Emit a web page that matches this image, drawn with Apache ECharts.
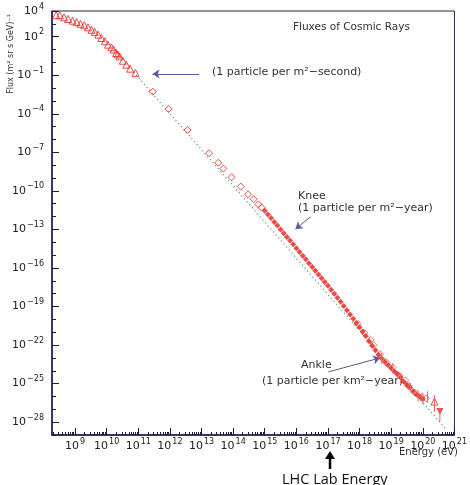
<!DOCTYPE html>
<html><head><meta charset="utf-8">
<script src="https://cdn.jsdelivr.net/npm/echarts@6/dist/echarts.min.js"></script>
<style>html,body{margin:0;padding:0;background:#fff}#c{width:470px;height:485px}</style>
</head><body><div id="c"></div>
<script>
// Values are log10(energy / eV) and log10(flux)
const triE = [8.40,8.52,8.65,8.78,8.92,9.05,9.17,9.29,9.41,9.52,9.62,9.73,9.83,9.94,10.04,10.15,10.22,10.30,10.35,10.41,10.51,10.62,10.74,10.91];
const triF = [3.67,3.67,3.51,3.38,3.25,3.14,3.01,2.89,2.73,2.54,2.37,2.16,1.90,1.64,1.38,1.18,1.00,0.73,0.62,0.47,0.13,-0.18,-0.49,-0.82];
const diaE = [11.46,11.96,12.56,13.24,13.53,13.69,13.95,14.24,14.47,14.65,14.80,14.90];
const diaF = [-2.28,-3.63,-5.26,-7.07,-7.81,-8.27,-8.94,-9.67,-10.26,-10.65,-11.05,-11.30];
const fillE = [15.0,15.1,15.2,15.3,15.4,15.5,15.6,15.7,15.8,15.9,16.0,16.1,16.2,16.3,16.4,16.5,16.6,16.7,16.8,16.9,17.0,17.1,17.2,17.3,17.4,17.5,17.6,17.7,17.8,17.9,18.0,18.1,18.2,18.3,18.4,18.5,18.6,18.7,18.8,18.9,19.0,19.1,19.2,19.3,19.4,19.5,19.6,19.7,19.8,19.9,20.0];
const fillF = [-11.55,-11.84,-12.12,-12.42,-12.70,-13.00,-13.29,-13.58,-13.87,-14.16,-14.46,-14.75,-15.04,-15.33,-15.63,-15.92,-16.21,-16.50,-16.80,-17.09,-17.38,-17.69,-18.00,-18.32,-18.63,-18.96,-19.29,-19.62,-19.95,-20.28,-20.62,-20.95,-21.30,-21.70,-22.05,-22.40,-22.75,-23.05,-23.30,-23.55,-23.80,-24.05,-24.25,-24.50,-24.85,-25.10,-25.30,-25.60,-25.85,-26.00,-26.20];
const openE = [17.95,18.15,18.35,18.45,18.65,18.85,19.05,19.25,19.45,19.55,19.75,19.95,20.10];
const openF = [-20.35,-21.05,-21.60,-22.00,-22.70,-23.35,-23.75,-24.35,-24.75,-25.20,-25.70,-26.05,-26.15];
const errE  = [18.70,19.05,19.30,19.60,19.85,20.00,20.15];
const errLo = [-23.5,-24.2,-25.0,-25.7,-26.4,-26.6,-26.5];
const errHi = [-22.6,-23.4,-24.2,-24.9,-25.5,-25.7,-25.6];
const hiE = [20.37], hiF = [-26.4], hiLo = [-27.2], hiHi = [-25.9];
const lastE = [20.54], lastF = [-27.18], lastLo = [-27.96], lastHi = [-26.9];
const lineE = [10.85, 20.75];
const lineF = [-0.75, -28.6];
const xLabels = [9,10,11,12,13,14,15,16,17,18,19,20,21];
const yLabels = [4,2,-1,-4,-7,-10,-13,-16,-19,-22,-25,-28];

const xMin = 8.27, xMax = 21, yMin = -29, yMax = 4;
const red = '#e6201a';
const xMinor = [];
for (let d = 8; d < 21; d++) for (let k = 2; k <= 9; k++) { const v = d + Math.log10(k); if (v > xMin && v < xMax) xMinor.push(v); }
const yMinor = [];
for (let d = -29; d <= 4; d++) yMinor.push(d);

const fmt = v => '{b|10}{s|' + (v < 0 ? '\u2212' + (-v) : v) + '}';
const rich = { b: { fontSize: 11, color: '#222', fontFamily: 'DejaVu Sans' }, s: { fontSize: 8, color: '#222', fontFamily: 'DejaVu Sans', padding: [0, 0, 9, 1] } };
const pair = (a, b) => a.map((v, i) => [v, b[i]]);
const errData = (e, lo, hi) => e.map((v, i) => [v, lo[i], hi[i]]);
const errSeries = (data) => ({
  type: 'custom', xAxisIndex: 0, yAxisIndex: 0, data, silent: true, z: 3,
  renderItem: (p, api) => {
    const a = api.coord([api.value(0), api.value(1)]), b = api.coord([api.value(0), api.value(2)]);
    return { type: 'line', shape: { x1: a[0], y1: a[1], x2: b[0], y2: b[1] }, style: { stroke: '#e86a60', lineWidth: 1 } };
  }
});
const tf = 'DejaVu Sans';
const chart = echarts.init(document.getElementById('c'));
chart.setOption({
  animation: false,
  grid: { left: 52, top: 11, right: 13, bottom: 50, show: true, borderColor: '#23234d', borderWidth: 1 },
  xAxis: [
    { type: 'value', min: xMin, max: xMax, splitLine: { show: false },
      axisLine: { onZero: false, lineStyle: { color: '#1b1b44', width: 1.5 } },
      axisTick: { inside: true, length: 7, customValues: xLabels, lineStyle: { color: '#1b1b44' } },
      axisLabel: { customValues: xLabels, formatter: fmt, rich, margin: 3 } },
    { type: 'value', min: xMin, max: xMax, position: 'bottom', splitLine: { show: false },
      axisLine: { show: false, onZero: false }, axisLabel: { show: false },
      axisTick: { inside: true, length: 3, customValues: xMinor, lineStyle: { color: '#1b1b44' } } }
  ],
  yAxis: [
    { type: 'value', min: yMin, max: yMax, splitLine: { show: false },
      axisLine: { show: true, onZero: false, lineStyle: { color: '#1b1b44', width: 1.5 } },
      axisTick: { show: true, inside: true, length: 7, customValues: yLabels, lineStyle: { color: '#1b1b44' } },
      axisLabel: { customValues: yLabels, formatter: fmt, rich, margin: 8 } },
    { type: 'value', min: yMin, max: yMax, position: 'left', splitLine: { show: false },
      axisLine: { show: false, onZero: false }, axisLabel: { show: false },
      axisTick: { show: true, inside: true, length: 4, customValues: yMinor, lineStyle: { color: '#1b1b44' } } }
  ],
  series: [
    { type: 'line', data: pair(lineE, lineF), symbol: 'none', z: 1,
      lineStyle: { color: '#3d9a5c', width: 1.3, type: [1, 3] } },
    errSeries(errData(errE, errLo, errHi)),
    errSeries(errData(hiE, hiLo, hiHi)),
    errSeries(errData(lastE, lastLo, lastHi)),
    { type: 'scatter', data: pair(triE, triF), symbol: 'triangle', symbolSize: 7,
      itemStyle: { color: 'rgba(0,0,0,0)', borderColor: red, borderWidth: 1 } },
    { type: 'scatter', data: pair(diaE, diaF), symbol: 'diamond', symbolSize: 7,
      itemStyle: { color: 'rgba(0,0,0,0)', borderColor: red, borderWidth: 1 } },
    { type: 'scatter', data: pair(openE, openF), symbol: 'diamond', symbolSize: 7,
      itemStyle: { color: 'rgba(0,0,0,0)', borderColor: '#ea5a50', borderWidth: 1 } },
    { type: 'scatter', data: pair(fillE, fillF), symbol: 'diamond', symbolSize: 6,
      itemStyle: { color: red } },
    { type: 'scatter', data: pair(hiE, hiF), symbol: 'triangle', symbolSize: 7,
      itemStyle: { color: 'rgba(0,0,0,0)', borderColor: red, borderWidth: 1 } },
    { type: 'scatter', data: pair(lastE, lastF), symbol: 'triangle', symbolRotate: 180, symbolSize: 7,
      itemStyle: { color: red },
      markLine: { silent: true, symbolSize: 7, label: { show: false },
        lineStyle: { color: '#5a5a9c', width: 1, type: 'solid' },
        data: [
          [{ coord: [12.92, -0.90], symbol: 'none' }, { coord: [11.45, -0.90], symbol: 'arrow' }],
          [{ coord: [16.45, -12.03], symbol: 'none' }, { coord: [15.97, -12.96], symbol: 'arrow' }],
          [{ coord: [17.01, -24.09], symbol: 'none' }, { coord: [18.65, -23.0], symbol: 'arrow' }]
        ] } }
  ],
  graphic: [
    { type: 'text', left: 293, top: 22, style: { text: 'Fluxes of Cosmic Rays', font: '10.5px ' + tf, fill: '#333' } },
    { type: 'text', x: 11, y: 54, rotation: Math.PI / 2, style: { text: 'Flux (m\u00b2 sr s GeV)\u207b\u00b9', font: '8px ' + tf, fill: '#333', align: 'center', verticalAlign: 'middle' } },
    { type: 'text', left: 212, top: 67, style: { text: '(1 particle per m\u00b2\u2212second)', font: '11px ' + tf, fill: '#333' } },
    { type: 'text', left: 298, top: 191, style: { text: 'Knee', font: '11px ' + tf, fill: '#333' } },
    { type: 'text', left: 298, top: 203, style: { text: '(1 particle per m\u00b2\u2212year)', font: '11px ' + tf, fill: '#333' } },
    { type: 'text', left: 301, top: 360, style: { text: 'Ankle', font: '11px ' + tf, fill: '#333' } },
    { type: 'text', left: 262, top: 376, style: { text: '(1 particle per km\u00b2\u2212year)', font: '11px ' + tf, fill: '#333' } },
    { type: 'text', right: 12, top: 447, style: { text: 'Energy (eV)', font: '10px ' + tf, fill: '#333' } },
    { type: 'line', shape: { x1: 330, y1: 469, x2: 330, y2: 456 }, style: { stroke: '#000', lineWidth: 2.5 } },
    { type: 'polygon', shape: { points: [[330, 451], [325, 459], [335, 459]] }, style: { fill: '#000' } },
    { type: 'text', left: 282, top: 472, style: { text: 'LHC Lab Energy', font: '14.5px "Open Sans"', fill: '#111' } }
  ]
});
</script></body></html>
